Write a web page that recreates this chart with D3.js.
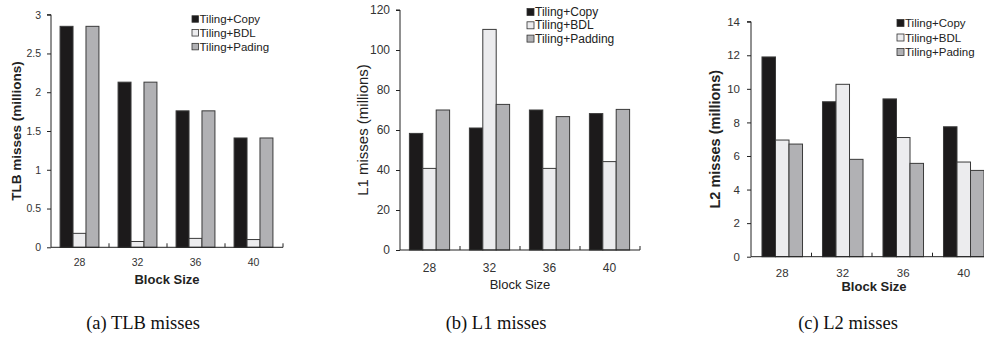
<!DOCTYPE html>
<html><head><meta charset="utf-8">
<script src="https://cdn.jsdelivr.net/npm/d3@7"></script>
<style>body{margin:0;background:#fff}svg{display:block}</style>
</head><body>
<svg id="c" width="984" height="339"></svg>
<script>
const categories = ["28","32","36","40"];
const seriesNames = ["Tiling+Copy","Tiling+BDL","Tiling+Padding"];
const legendA = ["Tiling+Copy","Tiling+BDL","Tiling+Pading"];
const legendB = ["Tiling+Copy","Tiling+BDL","Tiling+Padding"];
const legendC = ["Tiling+Copy","Tiling+BDL","Tiling+Pading"];
const tlbCopy = [2.85, 2.13, 1.76, 1.41];
const tlbBDL = [0.18, 0.075, 0.115, 0.10];
const tlbPad = [2.85, 2.13, 1.76, 1.41];
const l1Copy = [58.3, 61, 70, 68.2];
const l1BDL = [40.8, 110.3, 40.8, 44.2];
const l1Pad = [70, 72.8, 66.7, 70.3];
const l2Copy = [11.9, 9.23, 9.4, 7.74];
const l2BDL = [6.95, 10.27, 7.1, 5.64];
const l2Pad = [6.71, 5.8, 5.56, 5.14];
const tlbTicks = [0, 0.5, 1, 1.5, 2, 2.5, 3];
const l1Ticks = [0, 20, 40, 60, 80, 100, 120];
const l2Ticks = [0, 2, 4, 6, 8, 10, 12, 14];
const colors = ["#1c1a1b", "#ececee", "#b1b1b4"];

const svg = d3.select("#c");
const FONT = "'Liberation Sans', Arial, sans-serif";

function panel(o) {
  const g = svg.append("g");
  const y = d3.scaleLinear().domain([0, o.max]).range([o.yb, o.yt]);
  const x = d3.scaleBand().domain(categories).range([o.x0, o.x1]).paddingInner(0.33).paddingOuter(0.165);
  const xs = d3.scaleBand().domain(d3.range(3)).range([0, x.bandwidth()]);
  const data = [o.s0, o.s1, o.s2];
  categories.forEach((c, i) => {
    data.forEach((arr, j) => {
      g.append("rect")
        .attr("x", x(c) + xs(j) + o.shift)
        .attr("y", y(arr[i]))
        .attr("width", xs.bandwidth())
        .attr("height", y(0) - y(arr[i]))
        .attr("fill", colors[j])
        .attr("stroke", "#3a3a3a").attr("stroke-width", 1);
    });
  });
  const ya = d3.axisLeft(y).tickValues(o.ticks).tickSize(4).tickPadding(o.tp).tickFormat(d3.format("~g"));
  const yg = g.append("g").attr("transform", `translate(${o.x0},0)`).call(ya);
  yg.select(".domain").attr("stroke", "#222").attr("d", `M-4,${o.yt}H0V${o.yb}`);
  yg.selectAll(".tick line").attr("stroke", "#222");
  yg.selectAll("text").attr("font-family", FONT).attr("font-size", o.tfs).attr("fill", "#333");
  const step = x.step();
  g.append("line").attr("x1", o.x0).attr("x2", o.x1).attr("y1", o.yb).attr("y2", o.yb).attr("stroke", "#222");
  d3.range(1, 5).forEach(k => {
    g.append("line").attr("x1", o.x0 + k * step).attr("x2", o.x0 + k * step)
      .attr("y1", o.yb).attr("y2", o.yb - 4).attr("stroke", "#222");
  });
  categories.forEach(c => {
    g.append("text").attr("x", x(c) + x.bandwidth() / 2 + o.shift).attr("y", o.xly)
      .attr("text-anchor", "middle").attr("font-family", FONT).attr("font-size", o.tfs).attr("fill", "#333").text(c);
  });
  g.append("text").attr("x", o.bsx).attr("y", o.bsy).attr("text-anchor", "middle")
    .attr("font-family", FONT).attr("font-size", o.bsfs).attr("font-weight", o.bsw).attr("fill", "#222").text("Block Size");
  g.append("text").attr("transform", `translate(${o.ylx},${(o.yt + o.yb) / 2}) rotate(-90)`)
    .attr("text-anchor", "middle").attr("dominant-baseline", "central")
    .attr("font-family", FONT).attr("font-size", o.ylfs).attr("font-weight", o.ylw).attr("fill", "#222").text(o.ylabel);
  o.legend.forEach((t, j) => {
    const ly = o.ly + j * o.lstep;
    g.append("rect").attr("x", o.lx).attr("y", ly - o.ls / 2).attr("width", o.ls).attr("height", o.ls)
      .attr("fill", colors[j]).attr("stroke", "#333").attr("stroke-width", 0.8);
    g.append("text").attr("x", o.lx + o.ls + 1).attr("y", ly).attr("dominant-baseline", "central")
      .attr("font-family", FONT).attr("font-size", o.lfs).attr("fill", "#222").text(t);
  });
  g.append("text").attr("x", o.cx).attr("y", 323).attr("text-anchor", "middle").attr("dominant-baseline", "central")
    .attr("font-family", "'Liberation Serif', 'Times New Roman', serif").attr("font-size", 18.5).attr("fill", "#111").text(o.caption);
}

panel({max: 3, yt: 14.7, yb: 247.3, x0: 51, x1: 283, shift: -0.5, s0: tlbCopy, s1: tlbBDL, s2: tlbPad, ticks: tlbTicks,
  tfs: 10.5, tp: 6, xly: 266, bsx: 167, bsy: 284, bsfs: 13, bsw: "bold", ylx: 16, ylfs: 13.5, ylw: "bold", ylabel: "TLB misses (millions)",
  legend: legendA, lx: 192, ly: 19, lstep: 13.8, ls: 6.5, lfs: 11.5, cx: 143, caption: "(a) TLB misses"});
panel({max: 120, yt: 10, yb: 250, x0: 400, x1: 640, shift: -0.5, s0: l1Copy, s1: l1BDL, s2: l1Pad, ticks: l1Ticks,
  tfs: 12, tp: 6, xly: 272, bsx: 520, bsy: 289, bsfs: 13, bsw: "normal", ylx: 362, ylfs: 15, ylw: "normal", ylabel: "L1 misses (millions)",
  legend: legendB, lx: 527, ly: 12, lstep: 13.3, ls: 7, lfs: 12, cx: 496, caption: "(b) L1 misses"});
panel({max: 14, yt: 21.7, yb: 256.7, x0: 751, x1: 993, shift: 1, s0: l2Copy, s1: l2BDL, s2: l2Pad, ticks: l2Ticks,
  tfs: 11.5, tp: 7, xly: 277, bsx: 874, bsy: 291, bsfs: 13, bsw: "bold", ylx: 715, ylfs: 14.5, ylw: "bold", ylabel: "L2 misses (millions)",
  legend: legendC, lx: 897, ly: 23, lstep: 14.5, ls: 7, lfs: 11.5, cx: 848, caption: "(c) L2 misses"});
</script>
</body></html>
